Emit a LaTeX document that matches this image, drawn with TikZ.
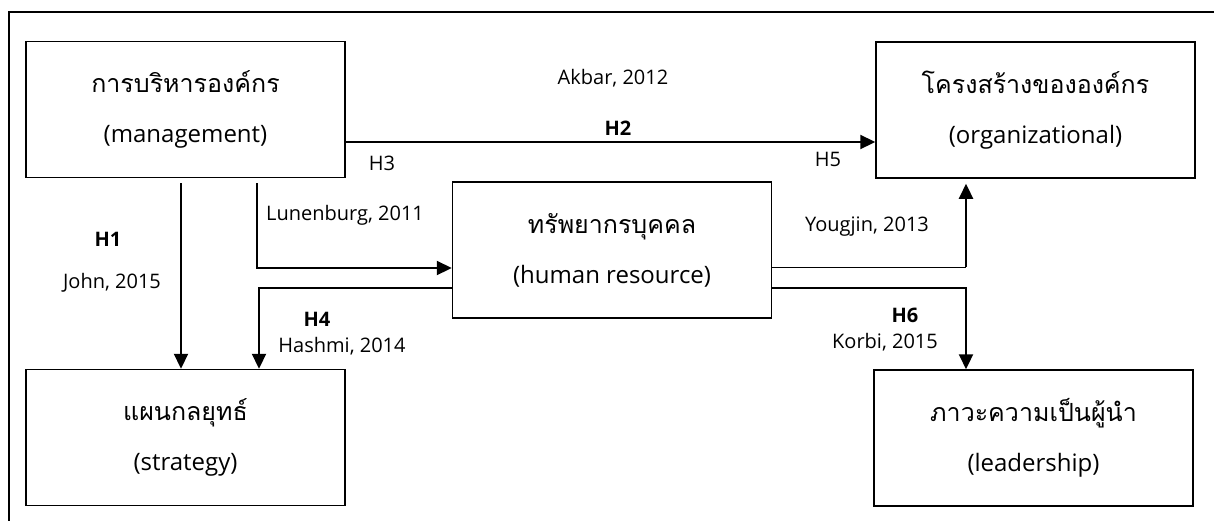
\documentclass[tikz,border=0pt]{standalone}
\usepackage{fontspec}
\setmainfont{Open Sans}
\newfontfamily\thaifont[Script=Thai]{Loma}
\usetikzlibrary{arrows.meta}

\tikzset{
	box/.style={draw,rectangle,line width=1.5pt,minimum width=319pt,minimum height=136pt,align=center,font=\fontsize{24}{50}\selectfont},
	lbl/.style={font=\fontsize{20}{25}\selectfont},
	hlbl/.style={font=\fontsize{20}{25}\selectfont\bfseries},
	arr/.style={line width=2.2pt,-{Triangle[length=15pt,width=14pt]}},
	thinline/.style={line width=1pt},
}

\begin{document}
\begin{tikzpicture}[x=1pt,y=-1pt]
		\useasboundingbox (0,0) rectangle (1214,520);
		\draw[line width=1.5pt] (9,540) -- (9,12) -- (1240,12);

		\node[box] at (185.5,109.5) (mgmt) {{\thaifont\fontsize{25}{50}\selectfont การบริหารองค์กร}\\(management)};
		\node[box] at (1035.5,110) (org) {{\thaifont\fontsize{25}{50}\selectfont โครงสร้างขององค์กร}\\(organizational)};
		\node[box] at (612,250) (hr) {{\thaifont\fontsize{25}{50}\selectfont ทรัพยากรบุคคล}\\(human resource)};
		\node[box] at (185.5,437.5) (strat) {{\thaifont\fontsize{25}{50}\selectfont แผนกลยุทธ์}\\(strategy)};
		\node[box] at (1033.5,438) (lead) {{\thaifont\fontsize{25}{50}\selectfont ภาวะความเป็นผู้นำ}\\(leadership)};

		\coordinate (ybend) at (966,267);

		\draw[arr] ([yshift=-32.5pt]mgmt.east) -- ([yshift=-32pt]org.west);
		\draw[arr] ([xshift=-4.5pt,yshift=-5pt]mgmt.south) -- ([xshift=-4.5pt]strat.north);
		\draw[arr] ([xshift=71.5pt,yshift=-5pt]mgmt.south) |- ([yshift=-18pt]hr.west);
		\draw[arr] ([yshift=-38pt]hr.west) -| ([xshift=73.5pt]strat.north);
		\draw[thinline] ([yshift=-17pt]hr.east) -- (ybend);
		\draw[arr] (ybend) -- ([xshift=-69.5pt,yshift=-5pt]org.south);
		\draw[arr] ([yshift=-38pt]hr.east) -| ([xshift=-67.5pt]lead.north);

		\node[lbl] at (613,78) (akbar) {Akbar, 2012};
		\node[hlbl] at (618,128) (h2) {H2};
		\node[lbl] at (382,163) (h3) {H3};
		\node[lbl] at (828,159) (h5) {H5};
		\node[hlbl] at (108,239) (h1) {H1};
		\node[lbl] at (112,283) (john) {John, 2015};
		\node[lbl] at (345,215) (lunen) {Lunenburg, 2011};
		\node[lbl] at (867,227) (yougjin) {Yougjin, 2013};
		\node[hlbl] at (317,319) (h4) {H4};
		\node[lbl] at (342,346) (hashmi) {Hashmi, 2014};
		\node[hlbl] at (905,315) (h6) {H6};
		\node[lbl] at (885,342) (korbi) {Korbi, 2015};
	\end{tikzpicture}
\end{document}
